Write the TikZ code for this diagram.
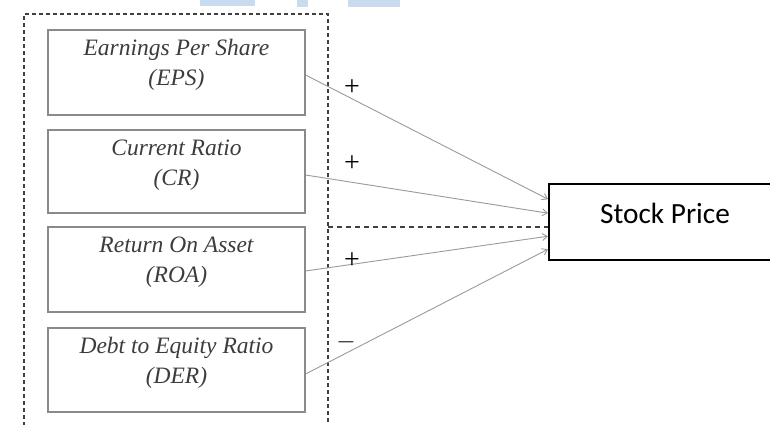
\documentclass[tikz,border=0pt]{standalone}
\usepackage{fontspec}
\setmainfont{Liberation Serif}
\newfontfamily\calibri{Carlito}
\usetikzlibrary{arrows.meta}
\definecolor{boxline}{HTML}{8A8A8A}
\definecolor{boxtext}{HTML}{3C3C3C}
\definecolor{conn}{HTML}{9A9A9A}
\definecolor{topblue}{HTML}{C9DBF0}
\tikzset{
  varbox/.style={draw=boxline, line width=1.2pt, rectangle, minimum width=257pt, inner sep=0pt},
  vartext/.style={text=boxtext, align=center, font=\itshape\fontsize{23.5}{30}\selectfont, inner sep=0pt},
  link/.style={draw=conn, line width=0.9pt, -{Straight Barb[length=5pt,width=7pt]}},
  sign/.style={font=\fontsize{28}{28}\selectfont, text=black, inner sep=0pt},
  outerdash/.style={draw=black!75, line width=1.4pt, dash pattern=on 4pt off 3pt},
}
\begin{document}
\begin{tikzpicture}[x=1pt,y=-1pt]
\useasboundingbox (0,0) rectangle (770,425);
\clip (0,0) rectangle (770,425);
% top light-blue fragments
\fill[topblue] (200,0) rectangle (255,6);
\fill[topblue] (297,0) rectangle (308,7);
\fill[topblue] (348,0) rectangle (400,7);
% outer dashed frame
\draw[outerdash] (24,440) -- (24,14) -- (328,14) -- (328,440);
% variable boxes
\node[varbox, minimum height=85pt] (b1) at (176.5,72.5) {};
\node[varbox, minimum height=83pt] (b2) at (176.5,171.5) {};
\node[varbox, minimum height=85pt] (b3) at (176.5,269.5) {};
\node[varbox, minimum height=84pt] (b4) at (176.5,370) {};
\node[vartext] (t1) at (176.5,65) {Earnings Per Share\\(EPS)};
\node[vartext] (t2) at (176.5,165) {Current Ratio\\(CR)};
\node[vartext] (t3) at (176.5,262) {Return On Asset\\(ROA)};
\node[vartext] (t4) at (176.5,363) {Debt to Equity Ratio\\(DER)};
% stock price box
\node[draw=black, line width=2.4pt, rectangle, minimum width=260pt, minimum height=76pt, inner sep=0pt, anchor=north west] (sp) at (548,183) {};
\node[font=\calibri\fontsize{29.3}{29.3}\selectfont, inner sep=0pt] (spt) at (665,213) {Stock Price};
% dashed horizontal line
\coordinate (dl) at (328,227);
\draw[draw=black!75, line width=1.3pt, dash pattern=on 5pt off 4pt] (dl) -- (sp.west |- dl);
% connectors
\draw[link] ([yshift=-2.5pt]b1.east) -- ([yshift=23pt]sp.west);
\draw[link] ([yshift=-3.5pt]b2.east) -- ([yshift=9pt]sp.west);
\draw[link] ([yshift=-1.5pt]b3.east) -- ([yshift=-14pt]sp.west);
\draw[link] ([yshift=-4pt]b4.east) -- ([yshift=-27pt]sp.west);
% signs
\node[sign] (s1) at (352,88) {+};
\node[sign] (s2) at (352,164) {+};
\node[sign] (s3) at (352,261) {+};
\node[sign] (s4) at (346,342) {$-$};
\end{tikzpicture}
\end{document}
